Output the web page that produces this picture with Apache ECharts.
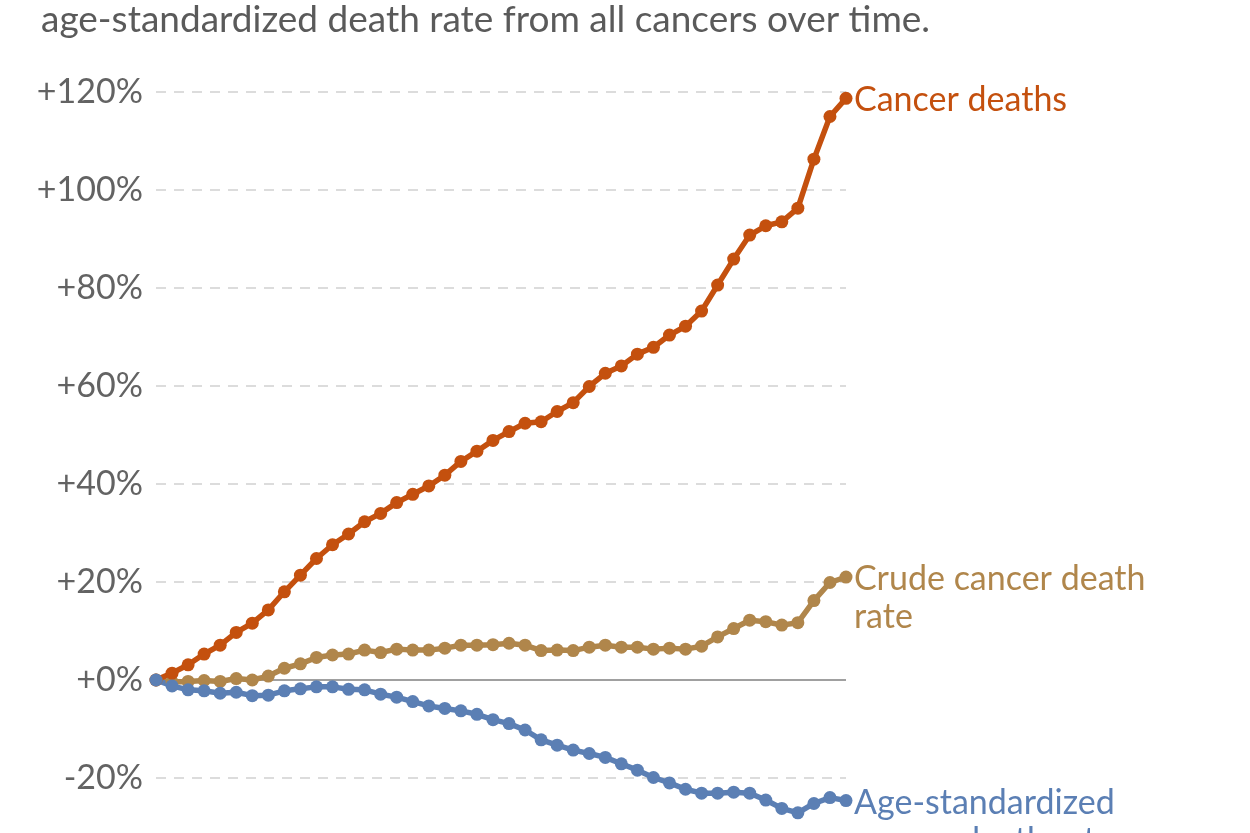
<!DOCTYPE html>
<html>
<head>
    <meta charset="UTF-8">
    <title>Cancer deaths vs death rates</title>
    <script src="https://cdn.jsdelivr.net/npm/echarts@6/dist/echarts.min.js"></script>
    <style>
        html, body { margin: 0; padding: 0; background: #fff; }
        #chart { width: 1250px; height: 833px; }
    </style>
</head>
<body>
    <div id="chart"></div>

    <script>
        // 44 yearly points, % change since the first year
        const points = Array.from({ length: 44 }, (_, i) => String(i));

        const cancerDeaths = [
            0, 1.4, 3.1, 5.3, 7.1, 9.7, 11.6, 14.3, 18.0, 21.4,
            24.8, 27.6, 29.8, 32.3, 34.0, 36.2, 37.9, 39.6, 41.8, 44.6,
            46.7, 48.9, 50.7, 52.4, 52.7, 54.8, 56.6, 59.9, 62.6, 64.1,
            66.5, 67.9, 70.4, 72.2, 75.3, 80.6, 85.9, 90.8, 92.7, 93.5,
            96.3, 106.3, 115.0, 118.7
        ];
        const crudeRate = [
            0, -0.4, -0.3, -0.1, -0.3, 0.3, 0, 0.8, 2.4, 3.3,
            4.6, 5.1, 5.3, 6.1, 5.6, 6.3, 6.1, 6.1, 6.5, 7.1,
            7.1, 7.2, 7.5, 7.1, 6.0, 6.1, 6.0, 6.7, 7.1, 6.7,
            6.7, 6.3, 6.5, 6.3, 6.9, 8.8, 10.5, 12.2, 11.9, 11.2,
            11.7, 16.2, 19.9, 21.0
        ];
        const ageStdRate = [
            0, -1.2, -2.0, -2.2, -2.7, -2.5, -3.2, -3.1, -2.2, -1.8,
            -1.4, -1.4, -1.9, -2.0, -2.9, -3.5, -4.4, -5.3, -5.8, -6.3,
            -7.0, -8.1, -8.9, -10.2, -12.2, -13.3, -14.3, -15.0, -15.8, -17.1,
            -18.4, -19.9, -21.0, -22.3, -23.1, -23.1, -22.9, -23.1, -24.5, -26.2,
            -27.1, -25.2, -24.0, -24.6
        ];

        const FONT = 'Lato, "Noto Sans", sans-serif';
        const ORANGE = '#c4500e';
        const TAN = '#b0864b';
        const BLUE = '#5b7fb4';

        const chart = echarts.init(document.getElementById('chart'));

        function lineSeries(name, data, color, labelText, multi) {
            return {
                name: name,
                type: 'line',
                data: data,
                clip: false,
                symbol: 'circle',
                symbolSize: 13,
                showSymbol: true,
                showAllSymbol: true,
                color: color,
                lineStyle: { color: color, width: 5.5 },
                itemStyle: { color: color },
                animation: false,
                endLabel: {
                    show: true,
                    formatter: labelText,
                    color: color,
                    fontFamily: FONT,
                    fontSize: 34,
                    lineHeight: 38,
                    distance: 8,
                    verticalAlign: multi ? 'top' : 'middle',
                    offset: multi ? [0, -17] : [0, 2]
                }
            };
        }

        chart.setOption({
            animation: false,
            title: {
                text: 'age-standardized death rate from all cancers over time.',
                left: 36,
                top: -3,
                textStyle: { color: '#5a5a5a', fontFamily: FONT, fontSize: 37, fontWeight: 'normal' }
            },
            grid: { left: 156, right: 404, top: 92, bottom: 55, outerBoundsMode: 'none' },
            xAxis: {
                type: 'category',
                data: points,
                boundaryGap: false,
                axisLine: { show: false },
                axisTick: { show: false },
                axisLabel: { show: false }
            },
            yAxis: {
                type: 'value',
                min: -20,
                max: 120,
                interval: 20,
                axisLine: { show: false },
                axisTick: { show: false },
                axisLabel: {
                    color: '#636363',
                    fontFamily: FONT,
                    fontSize: 34,
                    margin: 13,
                    formatter: v => (v >= 0 ? '+' : '') + v + '%'
                },
                splitLine: {
                    lineStyle: { color: '#dcdcdc', width: 2, type: [10, 8] }
                }
            },
            series: [
                {
                    type: 'line',
                    data: points.map(() => 0),
                    symbol: 'none',
                    silent: true,
                    lineStyle: { color: '#a0a0a0', width: 2 },
                    z: 1
                },
                lineSeries('Crude', crudeRate, TAN, 'Crude cancer death\nrate', true),
                lineSeries('Deaths', cancerDeaths, ORANGE, 'Cancer deaths', false),
                lineSeries('AgeStd', ageStdRate, BLUE, 'Age-standardized\ncancer death rate', true)
            ]
        });
    </script>
</body>
</html>
